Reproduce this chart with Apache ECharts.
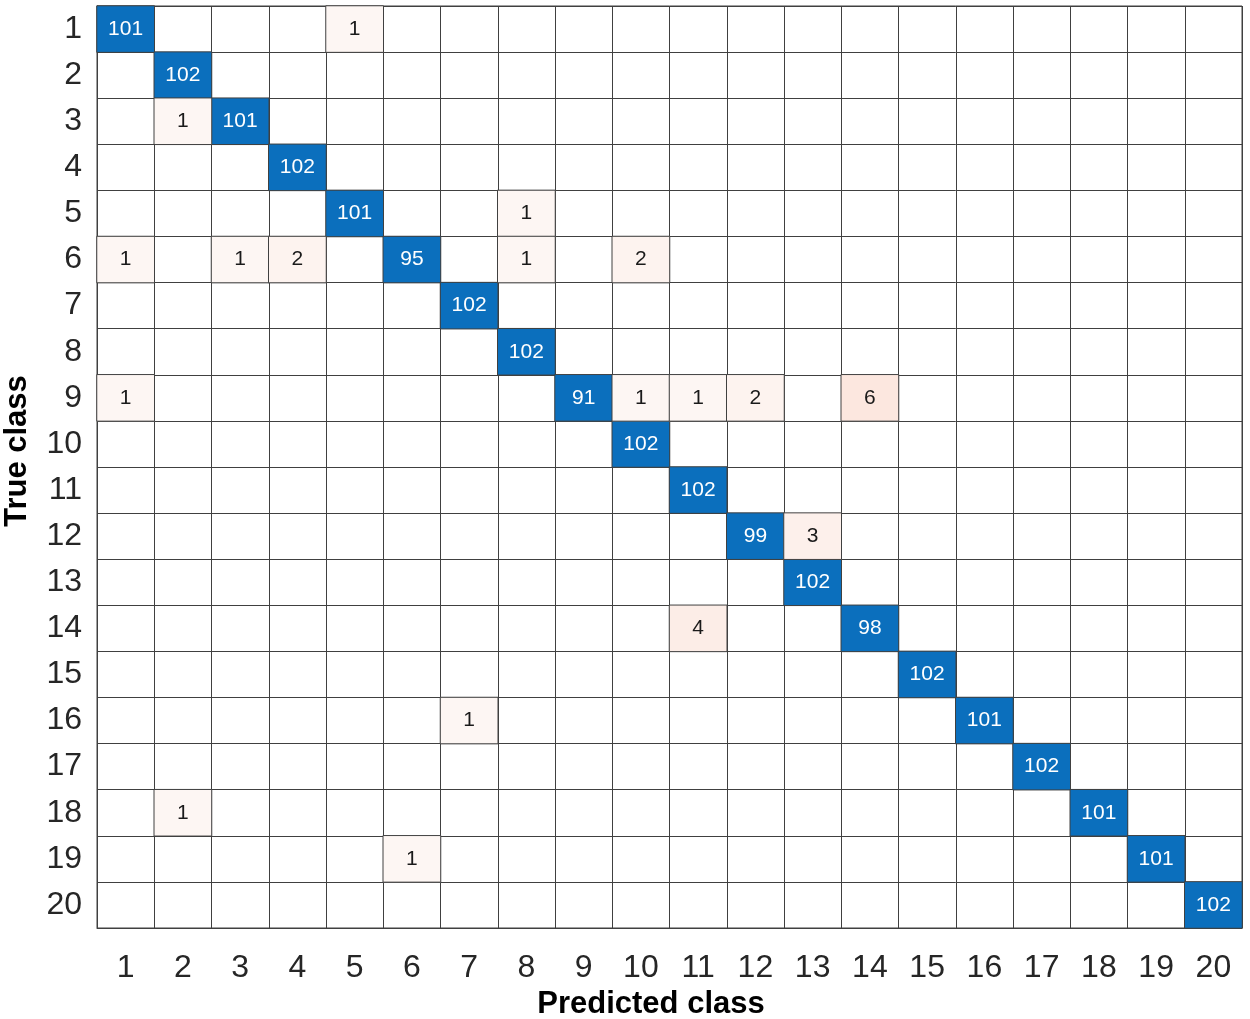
<!DOCTYPE html>
<html>
<head>
<meta charset="utf-8">
<script src="https://cdn.jsdelivr.net/npm/echarts@6/dist/echarts.min.js"></script>
<style>
html,body{margin:0;padding:0;background:#fff;}
#chart{width:1250px;height:1019px;}
</style>
</head>
<body>
<div id="chart"></div>
<script>
var classes = ['1','2','3','4','5','6','7','8','9','10','11','12','13','14','15','16','17','18','19','20'];
// correct predictions (true class i predicted as class i)
var diagonal = [101,102,101,102,101,95,102,102,91,102,102,99,102,98,102,101,102,101,101,102];
// misclassifications: [true class, predicted class, count]
var offTrue = ['1','3','5','6','6','6','6','6','9','9','9','9','9','12','14','16','18','19'];
var offPred = ['5','2','8','1','3','4','8','10','1','10','11','12','14','13','11','7','2','6'];
var offCount = [1,1,1,1,1,2,1,2,1,1,1,2,6,3,4,1,1,1];

var diagData = diagonal.map(function(v,i){ return [classes[i], classes[i], v]; });
var offData = offCount.map(function(v,i){ return [offPred[i], offTrue[i], v]; });

var chart = echarts.init(document.getElementById('chart'));
var lineColor = '#404040';
var fam = 'Liberation Sans, Arial, sans-serif';
chart.setOption({
  animation:false,
  grid:{left:97, right:8, top:6, bottom:91, show:true, borderColor:lineColor, borderWidth:1},
  xAxis:{
    type:'category', data:classes, position:'bottom',
    axisLine:{show:true, lineStyle:{color:lineColor,width:1}},
    axisTick:{show:false},
    splitLine:{show:true, interval:0, lineStyle:{color:lineColor,width:1}},
    axisLabel:{interval:0, margin:24, fontSize:32, color:'#262626', fontFamily:fam}
  },
  yAxis:{
    type:'category', data:classes, inverse:true,
    axisLine:{show:true, lineStyle:{color:lineColor,width:1}},
    axisTick:{show:false},
    splitLine:{show:true, interval:0, lineStyle:{color:lineColor,width:1}},
    axisLabel:{interval:0, margin:15, fontSize:32, color:'#262626', fontFamily:fam, padding:[8,0,0,0]}
  },
  visualMap:{
    show:false, seriesIndex:1, min:1, max:6, dimension:2,
    inRange:{color:['#fdf6f3','#fce7df']}
  },
  series:[
    {
      type:'heatmap', data:diagData,
      itemStyle:{color:'#0b6fbd', borderColor:lineColor, borderWidth:1},
      label:{show:true, color:'#ffffff', fontSize:21, fontFamily:fam, padding:[3,0,0,0]}
    },
    {
      type:'heatmap', data:offData,
      itemStyle:{borderColor:lineColor, borderWidth:1},
      label:{show:true, color:'#1a1a1a', fontSize:21, fontFamily:fam, padding:[3,0,0,0]}
    }
  ],
  graphic:[
    {type:'text', x:651, y:1004, style:{text:'Predicted class', align:'center', verticalAlign:'middle', font:'bold 31px ' + fam, fill:'#000'}},
    {type:'text', rotation:Math.PI/2, x:17, y:451, style:{text:'True class', align:'center', verticalAlign:'middle', font:'bold 31px ' + fam, fill:'#000'}}
  ]
});
</script>
</body>
</html>
